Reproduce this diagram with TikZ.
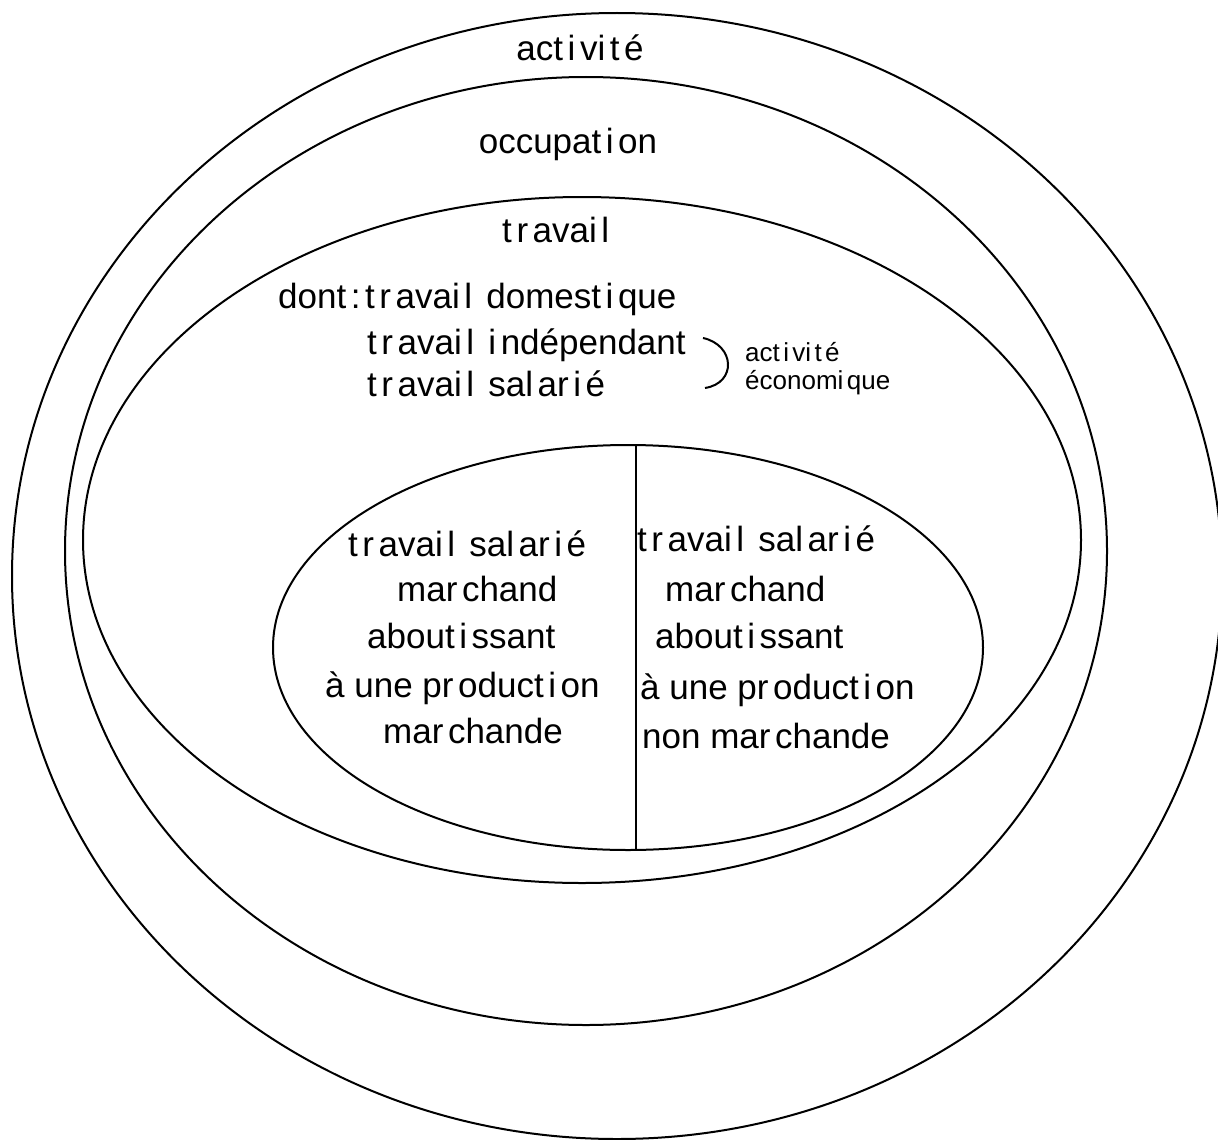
\documentclass[tikz,border=0pt]{standalone}
\usepackage{fontspec}
\setmainfont{Liberation Sans}
\XeTeXinterchartokenstate=1
\XeTeXcharclass`\t=10
\XeTeXcharclass`\r=10
\XeTeXcharclass`\i=10
\XeTeXcharclass`\l=10
\XeTeXcharclass`\:=10
\XeTeXinterchartoks 10 0 = {\kern0.13em\relax}
\XeTeXinterchartoks 10 10 = {\kern0.13em\relax}
\XeTeXinterchartoks 10 4095 = {\kern0.13em\relax}
\begin{document}
\begin{tikzpicture}[x=1pt,y=-1pt,
  ring/.style={draw=black,line width=2pt},
  bigtxt/.style={font=\fontsize{35}{42}\selectfont,inner sep=0pt,anchor=base},
  lefttxt/.style={bigtxt,anchor=base west},
  smalltxt/.style={font=\fontsize{26}{31}\selectfont,inner sep=0pt,anchor=base west}]
\useasboundingbox[fill=white] (0,0) rectangle (1218,1140);
% rings
\draw[ring] (617,576) ellipse [x radius=605pt, y radius=563pt];
\draw[ring] (586,551) ellipse [x radius=521pt, y radius=474pt];
\draw[ring] (582,540) ellipse [x radius=499pt, y radius=343pt];
\draw[ring] (628,647.5) ellipse [x radius=355pt, y radius=202.5pt];
\coordinate (divtop) at (636,445.2);
\coordinate (divbot) at (636,849.8);
\draw[line width=1.6pt] (divtop) -- (divbot);
% titles
\node[bigtxt] (act) at (580,61) {activité};
\node[bigtxt] (occ) at (568,153) {occupation};
\node[bigtxt] (trav) at (558,242) {travail};
% dont list
\node[lefttxt] (dont) at (278,308) {dont:travail domestique};
\node[lefttxt] (indep) at (367,354) {travail indépendant};
\node[lefttxt] (sal) at (367,396) {travail salarié};
\coordinate (brA) at (703,338);
\coordinate (brB) at (705,388);
\draw[line width=2pt] (brA) .. controls (735,345) and (737,383) .. (brB);
\node[smalltxt] (ae1) at (745,361) {activité};
\node[smalltxt] (ae2) at (745,389) {économique};
% left half
\node[lefttxt] (l1) at (348,556) {travail salarié};
\node[lefttxt] (l2) at (397,601) {marchand};
\node[lefttxt] (l3) at (367,648) {aboutissant};
\node[lefttxt] (l4) at (325,697) {à une production};
\node[lefttxt] (l5) at (383,743) {marchande};
% right half
\node[lefttxt] (r1) at (637,551) {travail salarié};
\node[lefttxt] (r2) at (665,601) {marchand};
\node[lefttxt] (r3) at (655,648) {aboutissant};
\node[lefttxt] (r4) at (640,699) {à une production};
\node[lefttxt] (r5) at (642,748) {non marchande};
\end{tikzpicture}
\end{document}
